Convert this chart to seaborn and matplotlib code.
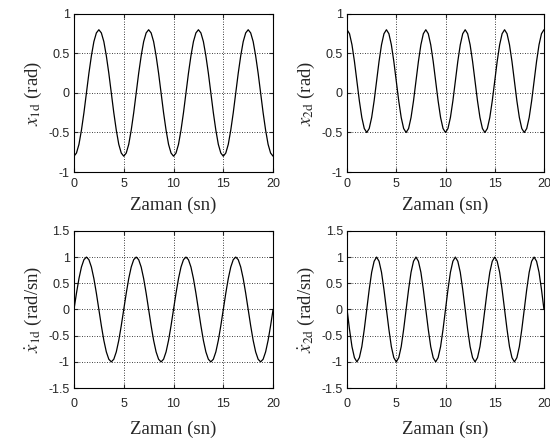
import numpy as np
import pandas as pd
import seaborn as sns
import matplotlib
matplotlib.use("Agg")
import matplotlib.pyplot as plt

# zaman ekseni (sn), 0.25 adim
zaman = np.arange(0, 20.001, 0.25)

# degerler
x1d = [-0.80, -0.76, -0.65, -0.47, -0.25, 0.00, 0.25, 0.47, 0.65, 0.76, 0.80, 0.76, 0.65, 0.47, 0.25, 0.00, -0.25, -0.47, -0.65, -0.76,
       -0.80, -0.76, -0.65, -0.47, -0.25, 0.00, 0.25, 0.47, 0.65, 0.76, 0.80, 0.76, 0.65, 0.47, 0.25, 0.00, -0.25, -0.47, -0.65, -0.76,
       -0.80, -0.76, -0.65, -0.47, -0.25, 0.00, 0.25, 0.47, 0.65, 0.76, 0.80, 0.76, 0.65, 0.47, 0.25, 0.00, -0.25, -0.47, -0.65, -0.76,
       -0.80, -0.76, -0.65, -0.47, -0.25, 0.00, 0.25, 0.47, 0.65, 0.76, 0.80, 0.76, 0.65, 0.47, 0.25, 0.00, -0.25, -0.47, -0.65, -0.76,
       -0.80]

x2d = [0.80, 0.75, 0.61, 0.40, 0.15, -0.10, -0.31, -0.45, -0.50, -0.45, -0.31, -0.10, 0.15, 0.40, 0.61, 0.75,
       0.80, 0.75, 0.61, 0.40, 0.15, -0.10, -0.31, -0.45, -0.50, -0.45, -0.31, -0.10, 0.15, 0.40, 0.61, 0.75,
       0.80, 0.75, 0.61, 0.40, 0.15, -0.10, -0.31, -0.45, -0.50, -0.45, -0.31, -0.10, 0.15, 0.40, 0.61, 0.75,
       0.80, 0.75, 0.61, 0.40, 0.15, -0.10, -0.31, -0.45, -0.50, -0.45, -0.31, -0.10, 0.15, 0.40, 0.61, 0.75,
       0.80, 0.75, 0.61, 0.40, 0.15, -0.10, -0.31, -0.45, -0.50, -0.45, -0.31, -0.10, 0.15, 0.40, 0.61, 0.75,
       0.80]

x1d_dot = [0.00, 0.31, 0.59, 0.81, 0.95, 1.00, 0.95, 0.81, 0.59, 0.31, 0.00, -0.31, -0.59, -0.81, -0.95, -1.00, -0.95, -0.81, -0.59, -0.31,
           0.00, 0.31, 0.59, 0.81, 0.95, 1.00, 0.95, 0.81, 0.59, 0.31, 0.00, -0.31, -0.59, -0.81, -0.95, -1.00, -0.95, -0.81, -0.59, -0.31,
           0.00, 0.31, 0.59, 0.81, 0.95, 1.00, 0.95, 0.81, 0.59, 0.31, 0.00, -0.31, -0.59, -0.81, -0.95, -1.00, -0.95, -0.81, -0.59, -0.31,
           0.00, 0.31, 0.59, 0.81, 0.95, 1.00, 0.95, 0.81, 0.59, 0.31, 0.00, -0.31, -0.59, -0.81, -0.95, -1.00, -0.95, -0.81, -0.59, -0.31,
           0.00]

x2d_dot = [0.00, -0.38, -0.71, -0.92, -1.00, -0.92, -0.71, -0.38, 0.00, 0.38, 0.71, 0.92, 1.00, 0.92, 0.71, 0.38,
           0.00, -0.38, -0.71, -0.92, -1.00, -0.92, -0.71, -0.38, 0.00, 0.38, 0.71, 0.92, 1.00, 0.92, 0.71, 0.38,
           0.00, -0.38, -0.71, -0.92, -1.00, -0.92, -0.71, -0.38, 0.00, 0.38, 0.71, 0.92, 1.00, 0.92, 0.71, 0.38,
           0.00, -0.38, -0.71, -0.92, -1.00, -0.92, -0.71, -0.38, 0.00, 0.38, 0.71, 0.92, 1.00, 0.92, 0.71, 0.38,
           0.00, -0.38, -0.71, -0.92, -1.00, -0.92, -0.71, -0.38, 0.00, 0.38, 0.71, 0.92, 1.00, 0.92, 0.71, 0.38,
           0.00]

ylabels = [r"$x_{\rm 1d}$ (rad)", r"$x_{\rm 2d}$ (rad)",
           r"$\dot{x}_{\rm 1d}$ (rad/sn)", r"$\dot{x}_{\rm 2d}$ (rad/sn)"]
xlabel = "Zaman (sn)"
xticks = [0, 5, 10, 15, 20]
yticks_top = [-1, -0.5, 0, 0.5, 1]
yticks_bot = [-1.5, -1, -0.5, 0, 0.5, 1, 1.5]

sns.set_style("ticks")
plt.rcParams["font.family"] = ["Liberation Sans", "DejaVu Sans"]
plt.rcParams["mathtext.fontset"] = "stix"

fig = plt.figure(figsize=(5.5, 4.44), dpi=100)
fig.patch.set_facecolor("white")

# eksen konumlari (piksel olcumlerinden)
positions = [
    [0.1345, 0.6126, 0.362, 0.356],
    [0.631, 0.6126, 0.358, 0.356],
    [0.1345, 0.126, 0.362, 0.354],
    [0.631, 0.126, 0.358, 0.354],
]
series = [x1d, x2d, x1d_dot, x2d_dot]

for i, (pos, y) in enumerate(zip(positions, series)):
    ax = fig.add_axes(pos)
    df = pd.DataFrame({"t": zaman, "y": y})
    sns.lineplot(data=df, x="t", y="y", ax=ax, color="black", linewidth=0.9)
    ax.set_xlim(0, 20)
    if i < 2:
        ax.set_ylim(-1, 1)
        ax.set_yticks(yticks_top)
        ax.set_yticklabels(["-1", "-0.5", "0", "0.5", "1"])
        xpad, lpad = 4.5, 4.5
    else:
        ax.set_ylim(-1.5, 1.5)
        ax.set_yticks(yticks_bot)
        ax.set_yticklabels(["-1.5", "-1", "-0.5", "0", "0.5", "1", "1.5"])
        xpad, lpad = 7.5, 7
    ax.set_xticks(xticks)
    ax.grid(True, color="black", linestyle=(0, (1, 2)), linewidth=0.6)
    ax.tick_params(direction="in", length=3, labelsize=9, top=True, right=True)
    ax.tick_params(axis="x", pad=xpad)
    ax.tick_params(axis="y", pad=3)
    for s in ax.spines.values():
        s.set_color("black")
        s.set_linewidth(0.8)
    ax.set_xlabel(xlabel, fontsize=13.5, family="Liberation Serif", labelpad=lpad)
    ax.set_ylabel(ylabels[i], fontsize=13.5, family="Liberation Serif", labelpad=3)

plt.savefig("out.png", dpi=100)
plt.close()
